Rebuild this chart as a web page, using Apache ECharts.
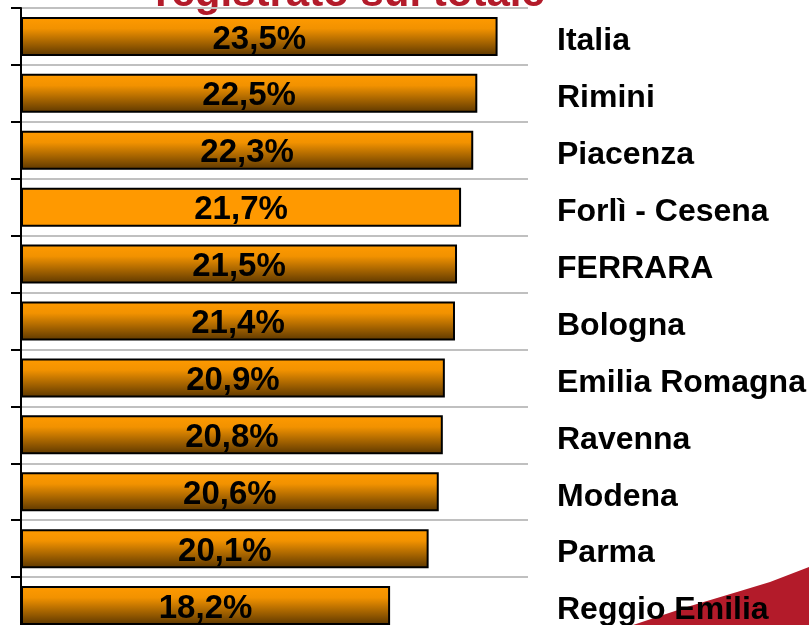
<!DOCTYPE html>
<html>
<head>
<meta charset="utf-8">
<script src="https://cdn.jsdelivr.net/npm/echarts@6/dist/echarts.min.js"></script>
<style>
  html, body { margin: 0; padding: 0; background: #fff; }
  #chart { width: 809px; height: 625px; }
</style>
</head>
<body>
<div id="chart"></div>
<script>
// categorie (dall'alto verso il basso)
var categories = ["Italia", "Rimini", "Piacenza", "Forlì - Cesena", "FERRARA", "Bologna",
  "Emilia Romagna", "Ravenna", "Modena", "Parma", "Reggio Emilia"];
// percentuale registrato sul totale
var values = [23.5, 22.5, 22.3, 21.7, 21.5, 21.4, 20.9, 20.8, 20.6, 20.1, 18.2];
var flatItem = "Forlì - Cesena"; // barra senza sfumatura

var font = "Liberation Sans, Arial, sans-serif";
var myChart = echarts.init(document.getElementById("chart"));

// colore barra: arancio con sfumatura verso il marrone
function gradient() {
  return new echarts.graphic.LinearGradient(0, 0, 0, 1, [
    { offset: 0, color: "#ff9a00" },
    { offset: 0.3, color: "#f29200" },
    { offset: 1, color: "#5c3700" },
  ]);
}

var option = {
  animation: false,
  grid: {
    left: 21,
    top: 8,
    width: 507,
    height: 626,
    containLabel: false,
    outerBoundsMode: "none",
  },
  xAxis: {
    type: "value",
    min: 0,
    max: 25,
    show: false,
  },
  yAxis: [
    {
      type: "category",
      inverse: true,
      data: categories,
      axisLine: { show: true, lineStyle: { color: "#000", width: 2 } },
      axisTick: { show: true, length: 10, lineStyle: { color: "#000", width: 2 } },
      axisLabel: { show: false },
      splitLine: { show: true, lineStyle: { color: "#c0c0c0", width: 2 } },
    },
    {
      type: "category",
      inverse: true,
      position: "right",
      data: categories,
      axisLine: { show: false },
      axisTick: { show: false },
      axisLabel: {
        margin: 29,
        formatter: "{a|{value}}",
        rich: {
          a: {
            padding: [10, 0, 0, 0],
            color: "#000",
            fontWeight: "bold",
            fontSize: 32,
            fontFamily: font,
          },
        },
      },
    },
  ],
  series: [
    {
      type: "bar",
      yAxisIndex: 0,
      barWidth: 39,
      data: values.map(function (v, i) {
        return {
          value: v,
          itemStyle: { color: categories[i] === flatItem ? "#ff9900" : gradient() },
        };
      }),
      itemStyle: { borderColor: "#000", borderWidth: 2 },
      label: {
        show: true,
        position: "inside",
        offset: [0, 3],
        color: "#000",
        fontWeight: "bold",
        fontSize: 33,
        fontFamily: font,
        formatter: function (p) {
          return p.value.toFixed(1).replace(".", ",") + "%";
        },
      },
    },
  ],
  graphic: [
    {
      type: "polygon",
      z: -10,
      shape: {
        points: [[633, 625], [687, 607], [737, 592], [770, 582], [809, 567], [809, 625]],
      },
      style: { fill: "#b31b2a" },
    },
    {
      type: "text",
      x: 350,
      y: 15,
      style: {
        text: "registrato sul totale",
        font: "bold 42px " + font,
        fill: "#b31b2a",
        textAlign: "center",
        textVerticalAlign: "bottom",
      },
    },
  ],
};
myChart.setOption(option);
</script>
</body>
</html>
